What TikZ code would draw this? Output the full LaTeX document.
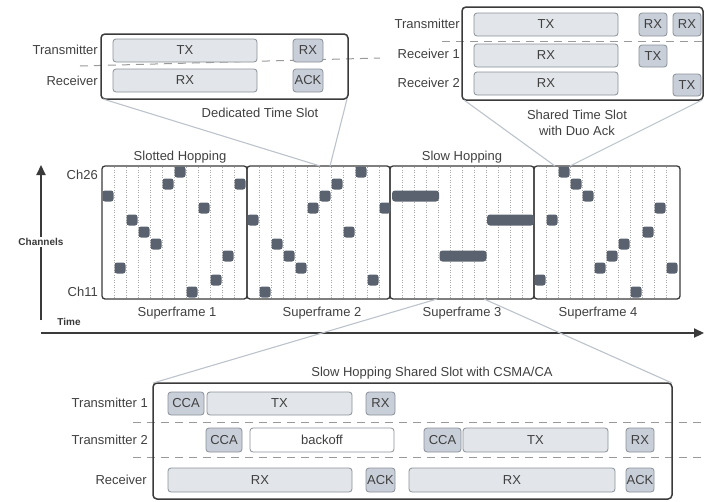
\documentclass[tikz,border=0pt]{standalone}
\usepackage{fontspec}
\setmainfont{Liberation Sans}
\usetikzlibrary{arrows.meta}
\definecolor{ink}{HTML}{3A3A3A}
\definecolor{txt}{HTML}{404040}
\definecolor{lightfill}{HTML}{E2E5E9}
\definecolor{darkfill}{HTML}{C8CFD9}
\definecolor{boxedge}{HTML}{8A9098}
\definecolor{hop}{HTML}{5A6270}
\definecolor{zoomc}{HTML}{BCC3CB}
\definecolor{dashc}{HTML}{9A9A9A}
\definecolor{dotc}{HTML}{A8A8A8}
\newcommand\slotnode[7]{\node[#2, minimum width={#4pt-#3pt}, minimum height={#6pt-#5pt}] (#1) at (#3,#5) {#7};}
\begin{document}
\begin{tikzpicture}[x=1pt,y=-1pt,
  every node/.style={font=\fontsize{13}{16}\selectfont, text=txt},
  frame/.style={draw=ink, line width=1.5pt, rounded corners=4pt, inner sep=0pt, outer sep=0pt, anchor=north west},
  sfbox/.style={draw=ink, line width=1.3pt, rounded corners=3pt, inner sep=0pt, outer sep=0pt, anchor=north west, minimum height=133pt},
  slot/.style={draw=boxedge, line width=0.8pt, rounded corners=3pt, inner sep=0pt, outer sep=0pt, anchor=north west},
  lightslot/.style={slot, fill=lightfill},
  darkslot/.style={slot, fill=darkfill},
  whiteslot/.style={slot, fill=white},
  hopsq/.style={fill=hop, rounded corners=2.5pt, minimum size=11pt, inner sep=0pt},
  hopbar/.style={fill=hop, rounded corners=3pt, minimum width=47pt, minimum height=11pt, inner sep=0pt},
  rowlabel/.style={anchor=east, inner sep=0pt},
  zoomline/.style={draw=zoomc, line width=1.1pt},
  rowsep/.style={draw=dashc, line width=1pt, dash pattern=on 8pt off 6pt},
  gridline/.style={draw=dotc, line width=0.6pt, dash pattern=on 1pt off 1.5pt},
  axis/.style={draw=ink, line width=2.2pt, -{Triangle[length=10pt,width=9pt]}},
  axislabel/.style={font=\bfseries\fontsize{10}{12}\selectfont, text=ink, fill=white, inner sep=1.5pt}
]
\useasboundingbox (0,0) rectangle (704,501);

% ---------- Dedicated time slot ----------
\draw[rowsep] (80,66) coordinate (dsepL) -- (380,58) coordinate (dsepR);
\node[frame, minimum width=247pt, minimum height=65pt] (dts) at (101,34) {};
\slotnode{dtx}{lightslot}{113}{257}{39}{62}{TX}
\slotnode{drx}{darkslot}{293}{323}{39}{62}{RX}
\slotnode{drx2}{lightslot}{113}{257}{69}{92}{RX}
\slotnode{dack}{darkslot}{293}{323}{69}{92}{ACK}
\node[rowlabel] (dlt) at (98,50) {Transmitter};
\node[rowlabel] (dlr) at (98,81) {Receiver};
\node (dcap) at (260,113) {Dedicated Time Slot};

% ---------- Shared time slot ----------
\draw[rowsep] (442,41) coordinate (ssepL) -- (704,41) coordinate (ssepR);
\node[frame, minimum width=241pt, minimum height=93pt] (sts) at (462,7) {};
\slotnode{stx}{lightslot}{474}{618}{13}{36}{TX}
\slotnode{srx1}{darkslot}{639}{667}{13}{36}{RX}
\slotnode{srx2}{darkslot}{673}{701}{13}{36}{RX}
\slotnode{sr1rx}{lightslot}{474}{618}{44}{67}{RX}
\slotnode{sr1tx}{darkslot}{639}{667}{45}{67}{TX}
\slotnode{sr2rx}{lightslot}{474}{618}{72}{95}{RX}
\slotnode{sr2tx}{darkslot}{673}{701}{74}{96}{TX}
\node[rowlabel] (slt) at (460,24) {Transmitter};
\node[rowlabel] (slr1) at (460,54) {Receiver 1};
\node[rowlabel] (slr2) at (460,83) {Receiver 2};
\node[align=center] (scap) at (577,123) {Shared Time Slot\\with Duo Ack};

% ---------- Superframes ----------
\node (t1) at (180,157) {Slotted Hopping};
\node (t2) at (462,157) {Slow Hopping};
\node[rowlabel] (ch26) at (98,175) {Ch26};
\node[rowlabel] (ch11) at (98,292) {Ch11};

\foreach \L in {102,247,390,534}
  \foreach \c in {1,...,11}
    \draw[gridline] (\L+12*\c,167) -- (\L+12*\c,298);

\node[sfbox, minimum width=145pt] (sf1) at (102,166) {};
\node[sfbox, minimum width=143pt] (sf2) at (247,166) {};
\node[sfbox, minimum width=144pt] (sf3) at (390,166) {};
\node[sfbox, minimum width=146pt] (sf4) at (534,166) {};

\foreach \r [count=\c from 0] in {2,8,4,5,6,1,0,10,3,9,7,1}
  \node[hopsq] (a\c) at (108+12*\c,172+12*\r) {};
\foreach \r [count=\c from 0] in {4,10,6,7,8,3,2,1,5,0,9,3}
  \node[hopsq] (b\c) at (253+12*\c,172+12*\r) {};
\foreach \r [count=\c from 0] in {9,4,0,1,2,8,7,6,10,5,3,8}
  \node[hopsq] (d\c) at (540+12*\c,172+12*\r) {};
\node[hopbar] (bar1) at (415.5,196) {};
\node[hopbar] (bar2) at (463,256) {};
\node[hopbar] (bar3) at (510.5,220) {};

\node (sfl1) at (177,313) {Superframe 1};
\node (sfl2) at (322,313) {Superframe 2};
\node (sfl3) at (462,313) {Superframe 3};
\node (sfl4) at (598,313) {Superframe 4};

% axes
\coordinate (chbot) at (41,320);
\coordinate (chtop) at (41,165);
\draw[axis] (chbot) -- (chtop);
\node[axislabel] (chl) at (41,242) {Channels};
\coordinate (tbeg) at (41,333);
\coordinate (tend) at (704,333);
\draw[axis] (tbeg) -- (tend);
\node[axislabel] (tl) at (69,322) {Time};

% ---------- zoom lines ----------
\coordinate (z1) at (320,166);
\coordinate (z2) at (330,166);
\coordinate (z3) at (555,166);
\coordinate (z4) at (570,166);
\coordinate (z5) at (437,299);
\coordinate (z6) at (484,299);
\draw[zoomline] ([xshift=2pt]dts.south west) -- (z1);
\draw[zoomline] ([xshift=-1pt]dts.south east) -- (z2);
\draw[zoomline] ([xshift=2pt]sts.south west) -- (z3);
\draw[zoomline] ([xshift=-1pt]sts.south east) -- (z4);

% ---------- CSMA/CA slot ----------
\node (ccap) at (432,373) {Slow Hopping Shared Slot with CSMA/CA};
\draw[rowsep] (133,422) coordinate (c1L) -- (704,422) coordinate (c1R);
\draw[rowsep] (133,457) coordinate (c2L) -- (704,457) coordinate (c2R);
\node[frame, minimum width=519pt, minimum height=116pt] (csma) at (153,383) {};
\draw[zoomline] (csma.north west) -- (z5);
\draw[zoomline] (csma.north east) -- (z6);

\slotnode{c1cca}{darkslot}{168}{204}{392}{415}{CCA}
\slotnode{c1tx}{lightslot}{207}{352}{392}{415}{TX}
\slotnode{c1rx}{darkslot}{366}{395}{392}{415}{RX}

\slotnode{c2cca}{darkslot}{206}{242}{428}{452}{CCA}
\slotnode{c2bo}{whiteslot}{250}{394}{428}{452}{backoff}
\slotnode{c2cca2}{darkslot}{424}{461}{428}{452}{CCA}
\slotnode{c2tx}{lightslot}{463}{608}{428}{452}{TX}
\slotnode{c2rx}{darkslot}{626}{654}{428}{452}{RX}

\slotnode{c3rx}{lightslot}{168}{352}{468}{492}{RX}
\slotnode{c3ack}{darkslot}{366}{395}{468}{492}{ACK}
\slotnode{c3rx2}{lightslot}{409}{615}{468}{492}{RX}
\slotnode{c3ack2}{darkslot}{626}{654}{468}{492}{ACK}

\node[rowlabel] (cl1) at (148,403) {Transmitter 1};
\node[rowlabel] (cl2) at (148,440) {Transmitter 2};
\node[rowlabel] (cl3) at (147,480) {Receiver};
\end{tikzpicture}
\end{document}
